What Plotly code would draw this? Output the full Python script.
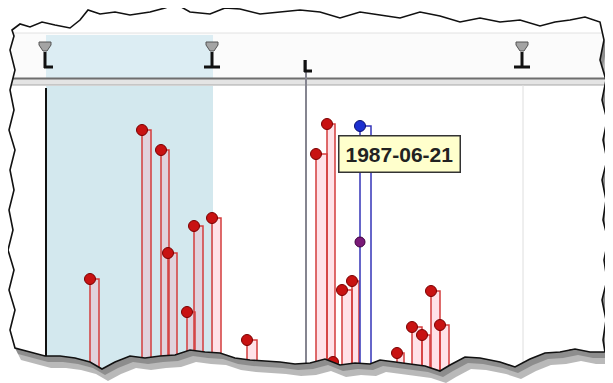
import plotly.graph_objects as go

# event timeline (x = day offset, value = height above baseline)
ev_start = [90, 142, 161, 168, 187, 194, 212, 247, 316, 327, 333, 342, 352, 397, 412, 422, 431, 440, 572]
ev_end = [99, 151, 169, 177, 195, 203, 221, 257, 327, 335, 336, 352, 359, 404, 422, 430, 440, 449, 580]
ev_value = [86, 235, 215, 112, 53, 139, 147, 25, 211, 241, 3, 75, 84, 12, 38, 30, 74, 40, 10]

sel_start, sel_end, sel_value = 360, 371, 239
sel_label = "1987-06-21"
hidden_start, hidden_value = 360, 123

# milestones in header: (x, kind)
milestones = [(45, "L"), (212, "T"), (522, "T")]
cursor_x = 305
range_start, range_end = 46, 213

BASE = 365  # pixel row of value 0
PAGE_MARGIN = 8  # body margin of the html page


def py(p):
    # pixel row -> value axis
    return BASE - p


fig = go.Figure()

# event boxes
bx, by = [], []
for s, e, v in zip(ev_start, ev_end, ev_value):
    bx += [s, s, e, e, s, None]
    by += [-18, v, v, -18, -18, None]
fig.add_trace(go.Scatter(x=bx, y=by, mode="lines", fill="toself",
                         fillcolor="rgba(255,160,180,0.3)",
                         line=dict(color="#d43c3c", width=1.5), hoverinfo="skip"))
fig.add_trace(go.Scatter(x=[sel_start, sel_start, sel_end, sel_end, sel_start],
                         y=[-18, sel_value, sel_value, -18, -18], mode="lines", fill="toself",
                         fillcolor="rgba(255,255,255,0.6)",
                         line=dict(color="#3434b8", width=1.5), hoverinfo="skip"))
fig.add_trace(go.Scatter(x=ev_start, y=ev_value, mode="markers",
                         marker=dict(symbol="circle", size=11, color="#c81212",
                                     line=dict(color="#7a0000", width=1))))
fig.add_trace(go.Scatter(x=[hidden_start], y=[hidden_value], mode="markers",
                         marker=dict(size=10, color="#7a1a78", line=dict(color="#400040", width=1))))
fig.add_trace(go.Scatter(x=[sel_start], y=[sel_value], mode="markers",
                         marker=dict(size=11, color="#1c2fd0", line=dict(color="#0a1070", width=1))))

shapes = []
# header band and selected range
shapes.append(dict(type="rect", x0=0, x1=613, y0=py(33), y1=py(78), fillcolor="#fbfbfb",
                   line=dict(width=0), layer="below"))
shapes.append(dict(type="line", x0=0, x1=613, y0=py(33), y1=py(33), line=dict(color="#e2e2e2", width=1), layer="below"))
shapes.append(dict(type="rect", x0=range_start, x1=range_end, y0=py(35), y1=py(78), fillcolor="#dcedf3",
                   line=dict(width=0), layer="below"))
shapes.append(dict(type="rect", x0=range_start, x1=range_end, y0=-18, y1=py(86), fillcolor="#d3e8ee",
                   line=dict(width=0), layer="below"))
shapes.append(dict(type="rect", x0=0, x1=613, y0=py(85), y1=py(78), fillcolor="#e4e4e4",
                   line=dict(width=0), layer="below"))
shapes.append(dict(type="line", x0=0, x1=613, y0=py(78.5), y1=py(78.5), line=dict(color="#6e6e6e", width=2), layer="below"))
shapes.append(dict(type="line", x0=0, x1=613, y0=py(85), y1=py(85), line=dict(color="#a8a8a8", width=1), layer="below"))

# vertical guides
shapes.append(dict(type="line", x0=range_start, x1=range_start, y0=-18, y1=py(88), line=dict(color="#111111", width=2), layer="below"))
shapes.append(dict(type="line", x0=cursor_x + 1, x1=cursor_x + 1, y0=-18, y1=py(60), line=dict(color="#858590", width=2), layer="below"))
shapes.append(dict(type="line", x0=523, x1=523, y0=-18, y1=py(85), line=dict(color="#dedede", width=1), layer="below"))

# milestone glyphs
for mx, kind in milestones:
    shapes.append(dict(type="path", path=f"M{mx-6},{py(42)} L{mx+6},{py(42)} L{mx+6},{py(45)} L{mx+2},{py(51)} L{mx-2},{py(51)} L{mx-6},{py(45)} Z",
                       fillcolor="#a4a4a4", line=dict(color="#555555", width=1)))
    shapes.append(dict(type="line", x0=mx, x1=mx, y0=py(52), y1=py(68), line=dict(color="#111111", width=3)))
    if kind == "L":
        shapes.append(dict(type="line", x0=mx - 1, x1=mx + 8, y0=py(67), y1=py(67), line=dict(color="#111111", width=3)))
    else:
        shapes.append(dict(type="line", x0=mx - 8, x1=mx + 8, y0=py(67), y1=py(67), line=dict(color="#111111", width=3)))
shapes.append(dict(type="line", x0=cursor_x, x1=cursor_x, y0=py(60), y1=py(72), line=dict(color="#111111", width=3)))
shapes.append(dict(type="line", x0=cursor_x - 1, x1=cursor_x + 7, y0=py(71), y1=py(71), line=dict(color="#111111", width=3)))

# torn paper edge (decoration, pixel outline)
torn = [(12, 30), (20, 24), (30, 27), (42, 22), (55, 25), (70, 28), (80, 20), (88, 10), (100, 14), (115, 12),
        (130, 15), (150, 12), (165, 8), (176, 4), (190, 12), (210, 14), (225, 8), (240, 9), (260, 14), (280, 12),
        (300, 10), (320, 12), (340, 18), (360, 12), (380, 15), (400, 18), (420, 12), (440, 16), (460, 22), (480, 18),
        (500, 22), (520, 20), (540, 26), (555, 22), (570, 20), (585, 17), (600, 22),
        (604, 40), (600, 60), (606, 80), (602, 100), (607, 120), (603, 140), (607, 160), (602, 180), (606, 200),
        (603, 220), (608, 240), (604, 260), (607, 280), (602, 300), (606, 320), (603, 340), (605, 352),
        (590, 352), (575, 349), (560, 352), (545, 353), (530, 359), (515, 367), (500, 362), (480, 358), (465, 357),
        (450, 365), (440, 371), (425, 366), (410, 364), (395, 362), (380, 360), (370, 364), (355, 363), (340, 365),
        (325, 359), (310, 363), (295, 364), (280, 362), (265, 361), (250, 360), (235, 358), (220, 353), (205, 352),
        (190, 350), (175, 355), (160, 356), (145, 358), (130, 356), (115, 362), (102, 369), (90, 362), (75, 358),
        (60, 356), (45, 356), (30, 352), (15, 348),
        (10, 330), (15, 310), (9, 290), (14, 270), (8, 250), (13, 230), (9, 210), (14, 190), (10, 170),
        (15, 150), (9, 130), (14, 110), (10, 90), (15, 70), (10, 50), (14, 36)]
inner = "M" + " L".join(f"{x},{py(y)}" for x, y in torn) + " Z"
outer = f"M-20,{py(-20)} L640,{py(-20)} L640,{py(400)} L-20,{py(400)} Z "
shapes.append(dict(type="path", path=outer + inner, fillcolor="white", line=dict(width=0), layer="above"))

# shadow along right and bottom edges
edge = torn[torn.index((604, 40)):torn.index((15, 348)) + 1]
back = [(x + 6, y + 12) for x, y in reversed(edge)]
sh = "M" + " L".join(f"{x},{py(y)}" for x, y in edge + back) + " Z"
shapes.append(dict(type="path", path=sh, fillcolor="rgba(80,80,80,0.4)", line=dict(width=0), layer="above"))
back2 = [(x + 3, y + 6) for x, y in reversed(edge)]
sh2 = "M" + " L".join(f"{x},{py(y)}" for x, y in edge + back2) + " Z"
shapes.append(dict(type="path", path=sh2, fillcolor="rgba(60,60,60,0.35)", line=dict(width=0), layer="above"))
shapes.append(dict(type="path", path=inner, line=dict(color="#111111", width=1.6), layer="above"))

fig.update_layout(
    width=613 - PAGE_MARGIN, height=383 - PAGE_MARGIN,
    margin=dict(l=0, r=0, t=0, b=0),
    paper_bgcolor="white", plot_bgcolor="white",
    showlegend=False,
    xaxis=dict(range=[PAGE_MARGIN, 613], visible=False, fixedrange=True),
    yaxis=dict(range=[py(383), py(PAGE_MARGIN)], visible=False, fixedrange=True),
    shapes=shapes,
    annotations=[dict(x=sel_start - 22, y=py(153.5), xref="x", yref="y", xanchor="left", yanchor="middle",
                      text="<b>" + sel_label + "</b>", showarrow=False,
                      font=dict(family="Liberation Sans, Arial", size=21, color="#222222"),
                      bgcolor="#ffffcc", bordercolor="#333333", borderwidth=1.5, borderpad=6)],
)

fig.write_html("out.html")
